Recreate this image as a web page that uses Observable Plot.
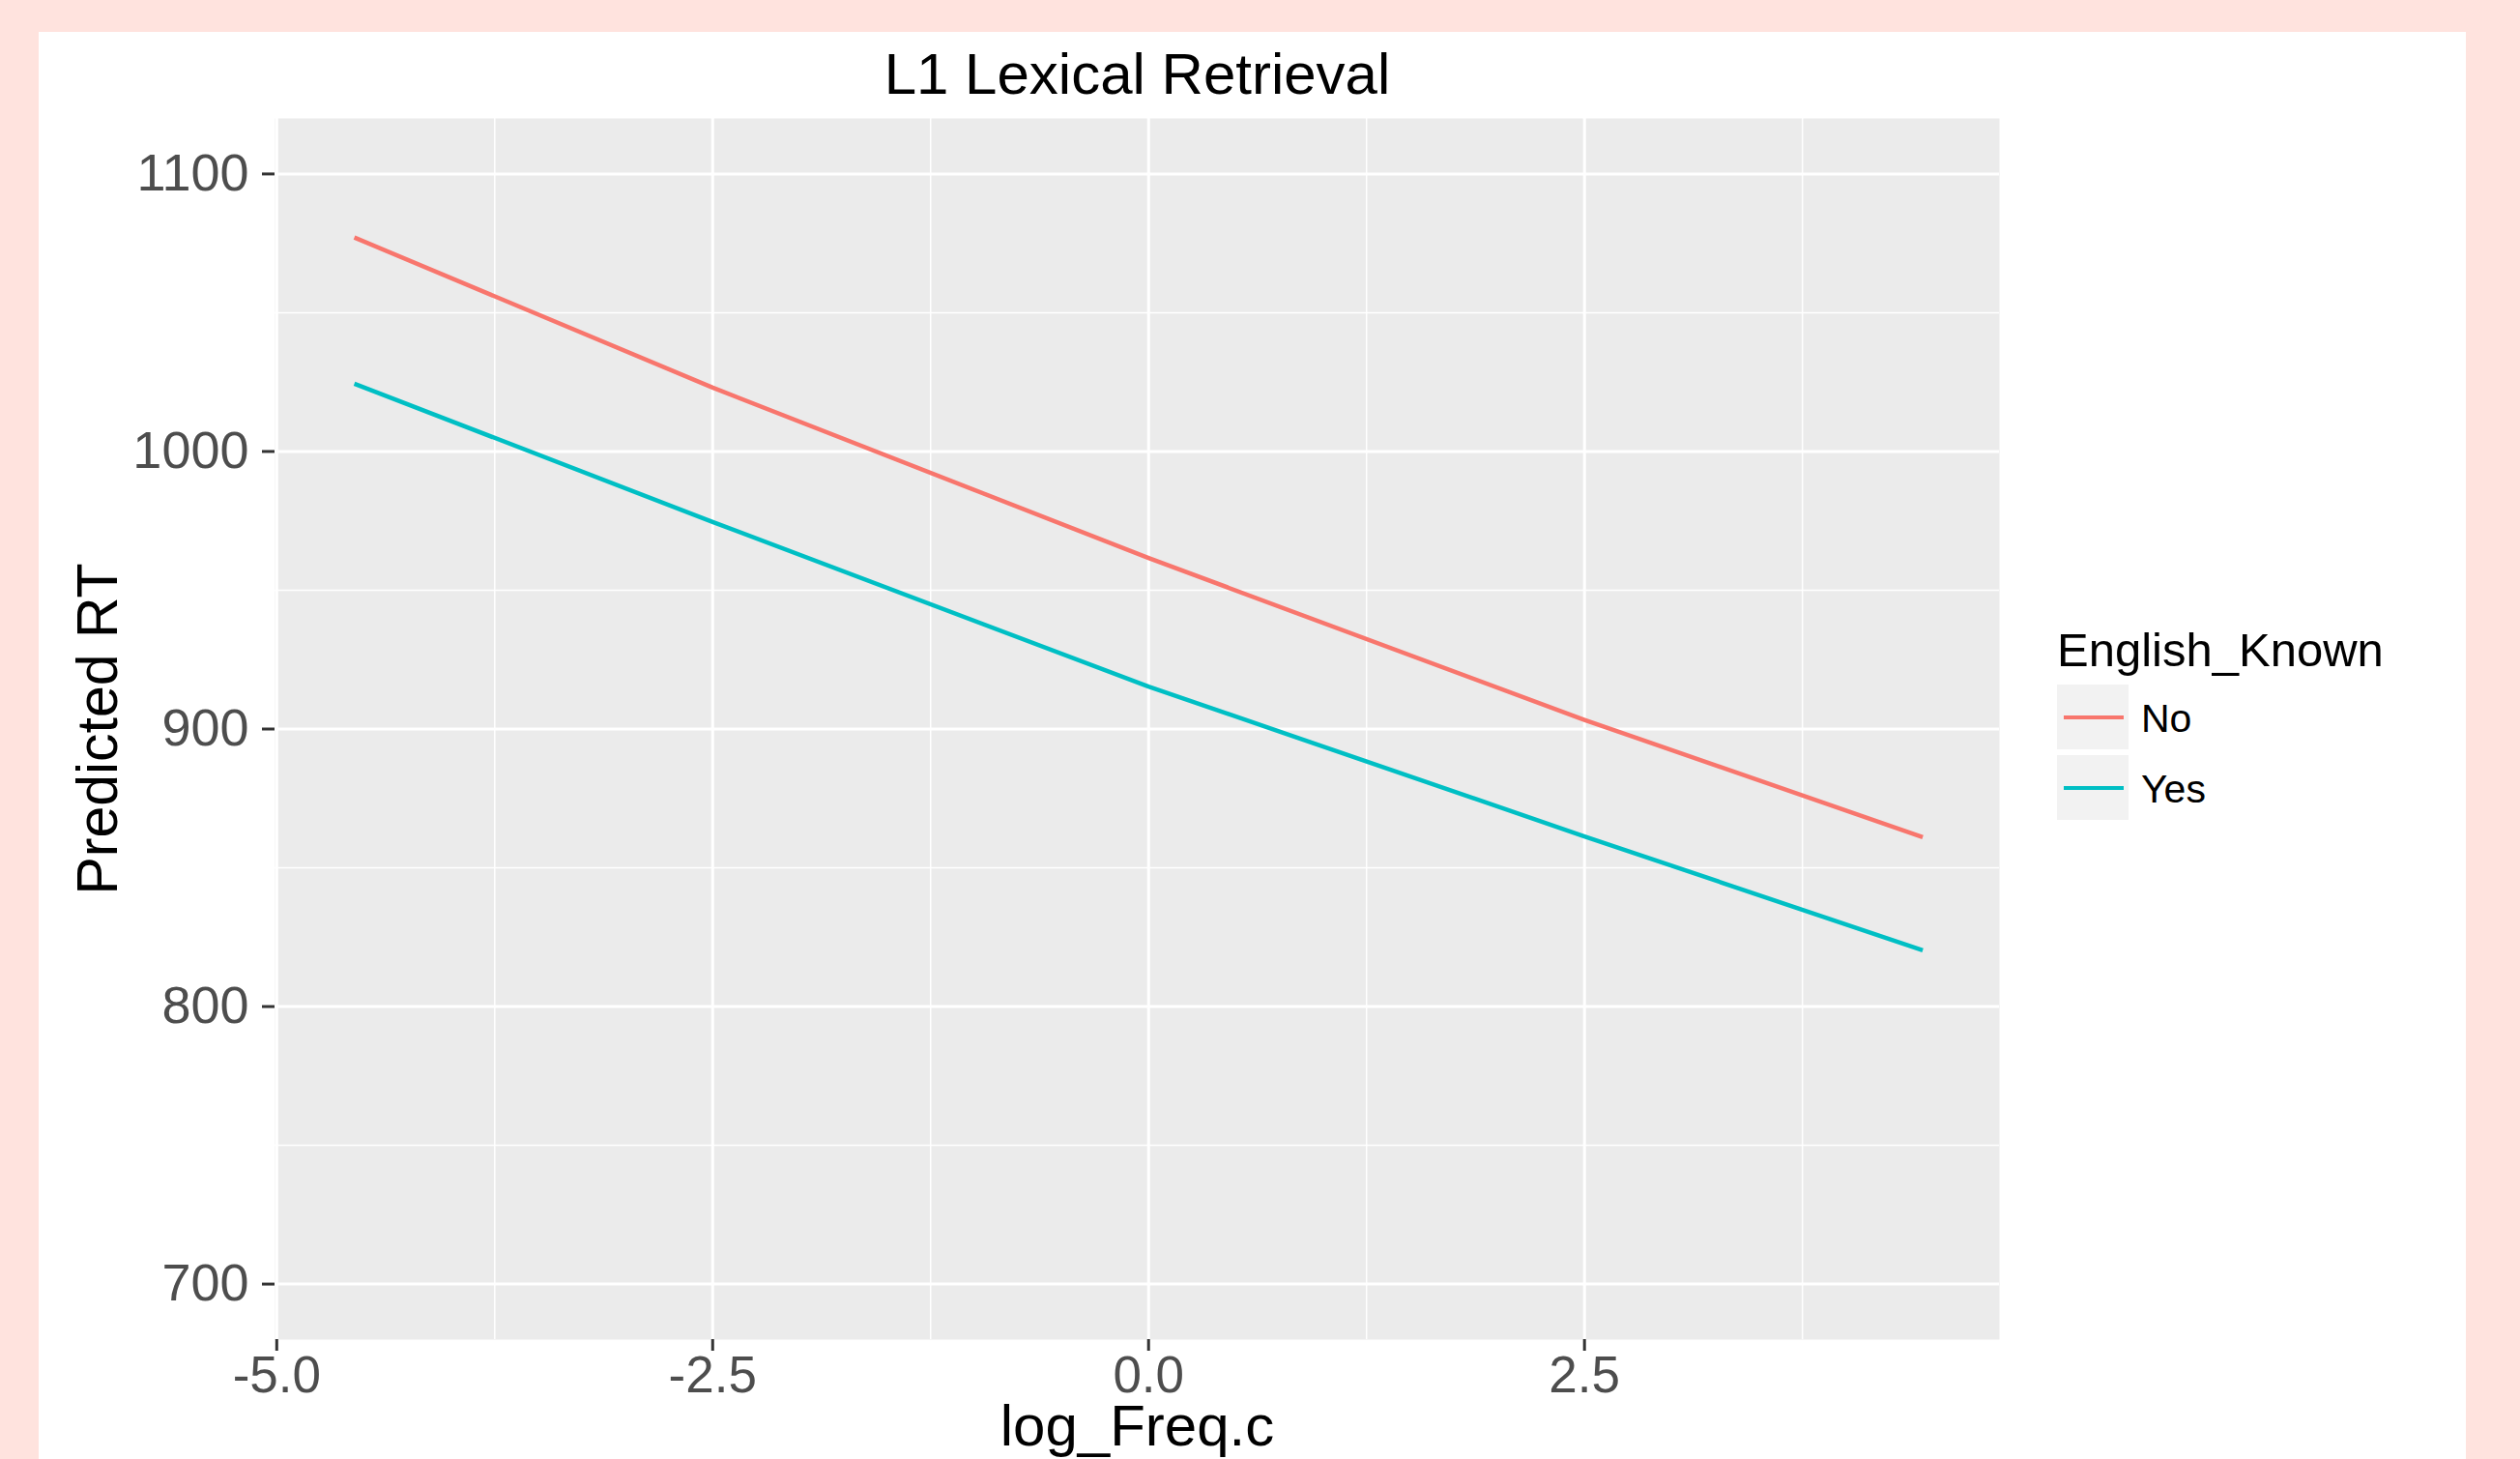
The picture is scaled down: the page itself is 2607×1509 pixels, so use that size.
<!DOCTYPE html>
<html>
<head>
<meta charset="utf-8">
<script src="https://cdn.jsdelivr.net/npm/d3@7"></script>
<script src="https://cdn.jsdelivr.net/npm/@observablehq/plot@0.6"></script>
<style>
  html, body { margin: 0; padding: 0; background: #FFE3DE; width: 2607px; height: 1509px; overflow: hidden; }
  #panel { position: absolute; left: 40px; top: 33px; width: 2511px; height: 1476px; background: #ffffff; }
  #chart { position: absolute; left: 0; top: 0; }
  .lg { position: absolute; font-family: "Liberation Sans", Arial, sans-serif; color: #000; line-height: 1; white-space: nowrap; }
  .key { position: absolute; background: #F2F2F2; }
  .key span { position: absolute; left: 7px; width: 62px; height: 4px; }
</style>
</head>
<body>
<div id="panel"></div>
<div id="chart"></div>
<div id="legend"></div>
<script>
// ---- data ----
const logFreq = [-4.555, -2.5, 0, 2.5, 4.44];
const rtNo    = [1077.1, 1023.0, 961.6, 903.3, 861.0];
const rtYes   = [1024.4, 974.6, 915.3, 861.3, 820.3];
const groups  = ["No", "Yes"];
const groupColors = ["#F8766D", "#00BFC4"];
const xTicks = [-5, -2.5, 0, 2.5];
const xMinor = [-3.75, -1.25, 1.25, 3.75];
const yTicks = [700, 800, 900, 1000, 1100];
const yMinor = [750, 850, 950, 1050];
const titleText = "L1 Lexical Retrieval";
const xTitle = "log_Freq.c";
const yTitle = "Predicted RT";
const legendTitle = "English_Known";

const rows = [];
logFreq.forEach((x, i) => rows.push({x, y: rtNo[i], g: "No"}));
logFreq.forEach((x, i) => rows.push({x, y: rtYes[i], g: "Yes"}));

const font = "Liberation Sans, Arial, Helvetica, sans-serif";

const chart = Plot.plot({
  width: 2607,
  height: 1509,
  marginLeft: 284,
  marginRight: 539,
  marginTop: 122,
  marginBottom: 124,
  style: {background: "transparent", fontFamily: font, fontSize: "54px", color: "#4D4D4D", overflow: "visible"},
  x: {domain: [-5.01, 4.88]},
  y: {domain: [680, 1120]},
  color: {domain: groups, range: groupColors},
  marks: [
    Plot.frame({fill: "#EBEBEB", stroke: null}),
    Plot.gridX(xMinor, {stroke: "#ffffff", strokeOpacity: 1, strokeWidth: 1.5}),
    Plot.gridY(yMinor, {stroke: "#ffffff", strokeOpacity: 1, strokeWidth: 1.5}),
    Plot.gridX(xTicks, {stroke: "#ffffff", strokeOpacity: 1, strokeWidth: 3}),
    Plot.gridY(yTicks, {stroke: "#ffffff", strokeOpacity: 1, strokeWidth: 3}),
    Plot.line(rows, {x: "x", y: "y", stroke: "g", strokeWidth: 4.5, strokeLinecap: "butt"}),
    Plot.axisX(xTicks, {label: null, tickSize: 12, tickPadding: 5, color: "#4D4D4D", stroke: "#333333", strokeWidth: 3, fontSize: 53, tickFormat: d => d.toFixed(1)}),
    Plot.axisY(yTicks, {label: null, tickSize: 13, tickPadding: 14, color: "#4D4D4D", stroke: "#333333", strokeWidth: 3, fontSize: 54, tickFormat: d => String(d)}),
    Plot.text([titleText], {frameAnchor: "top", dy: -26, lineAnchor: "bottom", fontSize: 60, fill: "#000000"}),
    Plot.text([xTitle], {frameAnchor: "bottom", dy: 109, lineAnchor: "bottom", fontSize: 60, fill: "#000000"}),
    Plot.text([yTitle], {frameAnchor: "left", dx: -164, rotate: -90, textAnchor: "middle", lineAnchor: "bottom", fontSize: 59, fill: "#000000"})
  ]
});
document.getElementById("chart").appendChild(chart);

// ---- legend (HTML) ----
const colorScale = chart.scale("color");
const lg = document.getElementById("legend");
const t = document.createElement("div");
t.className = "lg";
t.style.left = "2128px"; t.style.top = "648px"; t.style.fontSize = "49px";
t.textContent = legendTitle;
lg.appendChild(t);
const keyTops = [708, 781];
groups.forEach((g, i) => {
  const k = document.createElement("div");
  k.className = "key";
  k.style.left = "2128px"; k.style.top = keyTops[i] + "px";
  k.style.width = "74px"; k.style.height = "67px";
  const s = document.createElement("span");
  s.style.top = "32px";
  s.style.background = colorScale.apply(g);
  k.appendChild(s);
  lg.appendChild(k);
  const l = document.createElement("div");
  l.className = "lg";
  l.style.left = "2215px"; l.style.top = (keyTops[i] + 15) + "px"; l.style.fontSize = "41px";
  l.textContent = g;
  lg.appendChild(l);
});
</script>
</body>
</html>
